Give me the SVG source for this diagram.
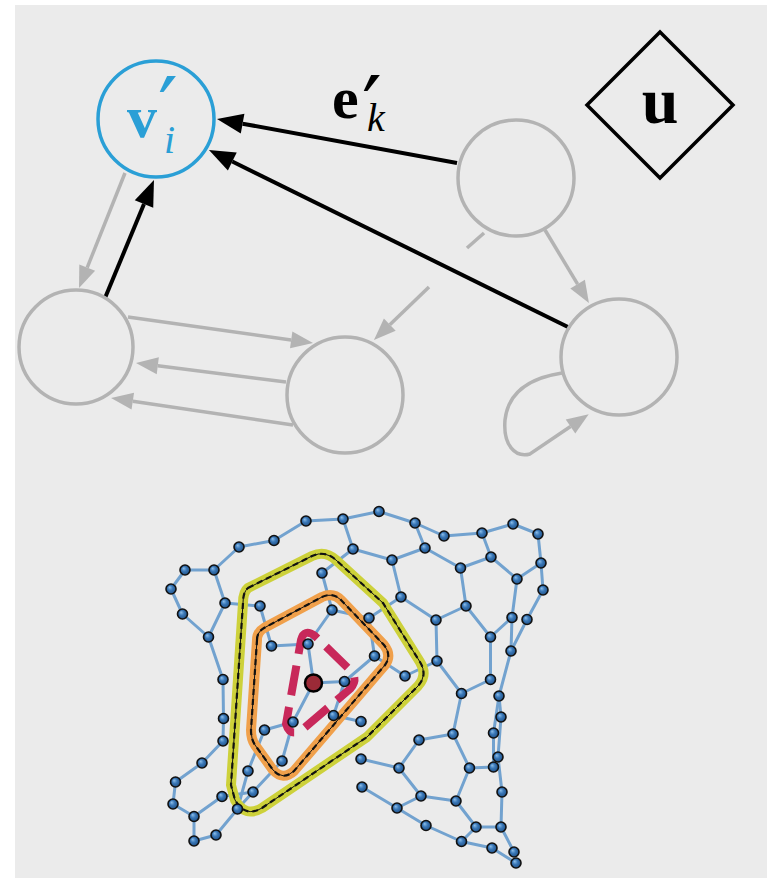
<svg xmlns="http://www.w3.org/2000/svg" width="767" height="878" viewBox="0 0 767 878">
  <defs>
    <style>
      .gnode { fill: none; stroke: #b3b3b3; stroke-width: 3.5; }
      .gedge { fill: none; stroke: #b3b3b3; stroke-width: 3.5; }
      .kedge { fill: none; stroke: #000; stroke-width: 4; }
      .mesh line { stroke: #72a2cf; stroke-width: 3; stroke-linecap: round; }
      .dot { fill: url(#ball); stroke: #111; stroke-width: 1.6; }
      .math { font-family: "Liberation Serif", "DejaVu Serif", serif; }
      .prime { font-family: "DejaVu Sans", sans-serif; font-weight: normal; font-style: normal; }
      .ring { fill: none; stroke-linejoin: round; }
      .ring-line { fill: none; stroke: #111; stroke-width: 1; }
      .ring-dash { fill: none; stroke: #111; stroke-width: 2.2; stroke-dasharray: 6 4; }
    </style>
    <radialGradient id="ball" cx="0.5" cy="0.5" r="0.55" fx="0.35" fy="0.32">
      <stop offset="0" stop-color="#8fc0ea"/>
      <stop offset="0.45" stop-color="#3a78b8"/>
      <stop offset="1" stop-color="#1d4c80"/>
    </radialGradient>
    <marker id="ak" markerUnits="userSpaceOnUse" markerWidth="30" markerHeight="24" viewBox="0 -12 28 24" refX="0" refY="0" orient="auto">
      <path d="M0,-10 L26,0 L0,10 Z" fill="#000"/>
    </marker>
    <marker id="ag" markerUnits="userSpaceOnUse" markerWidth="26" markerHeight="20" viewBox="0 -10 24 20" refX="0" refY="0" orient="auto">
      <path d="M0,-8.5 L22,0 L0,8.5 Z" fill="#b3b3b3"/>
    </marker>
    <path id="ring-outer" d="M248,588 L312,556 Q325,550 336,560 L383,603 L420,662 Q428,675 418,686 L367,737 L262,808 Q245,818 235,800 L231,785 L243,603 Q243,592 248,588 Z"/>
    <path id="ring-inner" d="M257,640 Q257,632 264,628 L322,597 Q333,592 341,600 L384,645 Q392,655 385,665 L294,771 Q283,781 273,770 L255,745 Q251,739 251,730 Z"/>
  </defs>

  <!-- panel background -->
  <rect x="0" y="0" width="767" height="878" fill="#ffffff"/>
  <rect x="15" y="5" width="752" height="873" fill="#ebebeb"/>

  <!-- upper graph: connectors -->
  <g id="edges">
    <line class="gedge" x1="125" y1="173" x2="87.2" y2="267.6" marker-end="url(#ag)"/>
    <line class="gedge" x1="128" y1="317" x2="291.2" y2="339.9" marker-end="url(#ag)"/>
    <line class="gedge" x1="286" y1="382" x2="157.8" y2="365.8" marker-end="url(#ag)"/>
    <line class="gedge" x1="293" y1="425" x2="132.8" y2="401.2" marker-end="url(#ag)"/>
    <line class="gedge" x1="429" y1="287" x2="389.8" y2="324.7" marker-end="url(#ag)"/>
    <line class="gedge" x1="545" y1="230" x2="577.6" y2="284.1" marker-end="url(#ag)"/>
    <line class="gedge" x1="484" y1="233" x2="467" y2="248"/>
    <path class="gedge" d="M562,373 C530,378 508,392 505,420 C503,445 515,458 530,454 L570.5,426.5" marker-end="url(#ag)"/>
    <line class="kedge" x1="457" y1="163" x2="242.6" y2="123.7" marker-end="url(#ak)"/>
    <line class="kedge" x1="570" y1="328" x2="232.3" y2="161.5" marker-end="url(#ak)"/>
    <line class="kedge" x1="105" y1="298" x2="144" y2="204" marker-end="url(#ak)"/>
  </g>

  <!-- upper graph: nodes -->
  <g id="node-vi">
    <circle cx="156" cy="119" r="58" fill="none" stroke="#2a9fd6" stroke-width="3.5"/>
    <text class="math" fill="#2a9fd6"><tspan x="127" y="137" font-size="60" font-weight="bold">v</tspan><tspan class="prime" x="158" y="140" font-size="88">′</tspan><tspan x="164" y="153" font-size="40" font-style="italic">i</tspan></text>
  </g>
  <g id="node-a"><circle class="gnode" cx="516" cy="178" r="58"/></g>
  <g id="node-b"><circle class="gnode" cx="76" cy="347" r="57"/></g>
  <g id="node-c"><circle class="gnode" cx="345" cy="395" r="58"/></g>
  <g id="node-d"><circle class="gnode" cx="619" cy="357" r="58"/></g>
  <g id="node-u">
    <path d="M660,32 L733,105 L660,178 L587,105 Z" fill="none" stroke="#000" stroke-width="3.5"/>
    <text class="math" x="660" y="123" font-size="66" font-weight="bold" text-anchor="middle" fill="#000">u</text>
  </g>
  <g id="label-ek">
    <text class="math" fill="#000"><tspan x="332" y="118" font-size="60" font-weight="bold">e</tspan><tspan class="prime" x="362" y="139" font-size="88">′</tspan><tspan x="367" y="131" font-size="40" font-style="italic">k</tspan></text>
  </g>

  <!-- lower figure: mesh links -->
  <g id="mesh-links" class="mesh">
    <line x1="306" y1="521" x2="343" y2="519"/>
    <line x1="306" y1="521" x2="274" y2="540.5"/>
    <line x1="274" y1="540.5" x2="239" y2="547"/>
    <line x1="239" y1="547" x2="214" y2="570"/>
    <line x1="185" y1="570" x2="214" y2="570"/>
    <line x1="185" y1="570" x2="171" y2="589"/>
    <line x1="171" y1="589" x2="182.5" y2="614"/>
    <line x1="182.5" y1="614" x2="208.5" y2="637"/>
    <line x1="214" y1="570" x2="225" y2="603"/>
    <line x1="225" y1="603" x2="260" y2="606"/>
    <line x1="225" y1="603" x2="208.5" y2="637"/>
    <line x1="208.5" y1="637" x2="223" y2="679.5"/>
    <line x1="260" y1="606" x2="271.5" y2="646"/>
    <line x1="271.5" y1="646" x2="308" y2="644"/>
    <line x1="322" y1="573" x2="332" y2="610"/>
    <line x1="322" y1="573" x2="353" y2="549"/>
    <line x1="332" y1="610" x2="308" y2="644"/>
    <line x1="332" y1="610" x2="369" y2="618"/>
    <line x1="308" y1="644" x2="313.5" y2="683"/>
    <line x1="313.5" y1="683" x2="344.5" y2="681.5"/>
    <line x1="343" y1="519" x2="379" y2="511.5"/>
    <line x1="379" y1="511.5" x2="415" y2="523"/>
    <line x1="415" y1="523" x2="444" y2="536"/>
    <line x1="444" y1="536" x2="482" y2="533"/>
    <line x1="482" y1="533" x2="513" y2="524"/>
    <line x1="513" y1="524" x2="538" y2="534"/>
    <line x1="343" y1="519" x2="353" y2="549"/>
    <line x1="415" y1="523" x2="425" y2="548"/>
    <line x1="353" y1="549" x2="392" y2="560"/>
    <line x1="392" y1="560" x2="425" y2="548"/>
    <line x1="425" y1="548" x2="460.5" y2="568"/>
    <line x1="460.5" y1="568" x2="491" y2="557"/>
    <line x1="482" y1="533" x2="491" y2="557"/>
    <line x1="491" y1="557" x2="517" y2="579"/>
    <line x1="517" y1="579" x2="541" y2="563"/>
    <line x1="538" y1="534" x2="541" y2="563"/>
    <line x1="541" y1="563" x2="543" y2="590"/>
    <line x1="517" y1="579" x2="512" y2="617.5"/>
    <line x1="392" y1="560" x2="401" y2="597"/>
    <line x1="401" y1="597" x2="369" y2="618"/>
    <line x1="401" y1="597" x2="436" y2="620"/>
    <line x1="460.5" y1="568" x2="466" y2="606"/>
    <line x1="466" y1="606" x2="436" y2="620"/>
    <line x1="466" y1="606" x2="490.5" y2="637"/>
    <line x1="490.5" y1="637" x2="512" y2="617.5"/>
    <line x1="436" y1="620" x2="437" y2="661"/>
    <line x1="369" y1="618" x2="374.5" y2="656"/>
    <line x1="374.5" y1="656" x2="344.5" y2="681.5"/>
    <line x1="374.5" y1="656" x2="405" y2="676"/>
    <line x1="405" y1="676" x2="437" y2="661"/>
    <line x1="437" y1="661" x2="461.5" y2="693.5"/>
    <line x1="490.5" y1="637" x2="490.5" y2="679.5"/>
    <line x1="490.5" y1="679.5" x2="461.5" y2="693.5"/>
    <line x1="543" y1="590" x2="527" y2="619.5"/>
    <line x1="527" y1="619.5" x2="511" y2="651"/>
    <line x1="512" y1="617.5" x2="511" y2="651"/>
    <line x1="511" y1="651" x2="499" y2="696"/>
    <line x1="499" y1="696" x2="501" y2="717"/>
    <line x1="499" y1="696" x2="493.5" y2="733"/>
    <line x1="501" y1="717" x2="498" y2="757"/>
    <line x1="493.5" y1="733" x2="493.5" y2="767"/>
    <line x1="498" y1="757" x2="502" y2="792"/>
    <line x1="469.5" y1="768" x2="493.5" y2="767"/>
    <line x1="461.5" y1="693.5" x2="453" y2="734"/>
    <line x1="453" y1="734" x2="419" y2="740"/>
    <line x1="453" y1="734" x2="469.5" y2="768"/>
    <line x1="419" y1="740" x2="399" y2="768"/>
    <line x1="361" y1="759" x2="399" y2="768"/>
    <line x1="399" y1="768" x2="421" y2="796"/>
    <line x1="421" y1="796" x2="456" y2="801"/>
    <line x1="456" y1="801" x2="469.5" y2="768"/>
    <line x1="362" y1="787" x2="397" y2="808"/>
    <line x1="397" y1="808" x2="421" y2="796"/>
    <line x1="397" y1="808" x2="426" y2="825.5"/>
    <line x1="426" y1="825.5" x2="461.5" y2="841.5"/>
    <line x1="461.5" y1="841.5" x2="476" y2="827"/>
    <line x1="456" y1="801" x2="476" y2="827"/>
    <line x1="476" y1="827" x2="501" y2="827"/>
    <line x1="501" y1="827" x2="502" y2="792"/>
    <line x1="501" y1="827" x2="514" y2="852"/>
    <line x1="461.5" y1="841.5" x2="492" y2="848"/>
    <line x1="492" y1="848" x2="516" y2="863"/>
    <line x1="313.5" y1="683" x2="293" y2="722"/>
    <line x1="293" y1="722" x2="264.5" y2="730"/>
    <line x1="293" y1="722" x2="282" y2="761"/>
    <line x1="264.5" y1="730" x2="248" y2="771"/>
    <line x1="248" y1="771" x2="237.5" y2="809"/>
    <line x1="282" y1="761" x2="253" y2="792"/>
    <line x1="253" y1="792" x2="237.5" y2="809"/>
    <line x1="253" y1="792" x2="222" y2="796.5"/>
    <line x1="222" y1="796.5" x2="194" y2="816.5"/>
    <line x1="237.5" y1="809" x2="216" y2="835"/>
    <line x1="216" y1="835" x2="194" y2="841"/>
    <line x1="194" y1="841" x2="194" y2="816.5"/>
    <line x1="194" y1="816.5" x2="173" y2="804"/>
    <line x1="173" y1="804" x2="175.5" y2="782"/>
    <line x1="175.5" y1="782" x2="202" y2="763"/>
    <line x1="202" y1="763" x2="223" y2="741"/>
    <line x1="223" y1="679.5" x2="223.5" y2="718.5"/>
    <line x1="223.5" y1="718.5" x2="223" y2="741"/>
    <line x1="333.5" y1="715.5" x2="361" y2="721.5"/>
    <line x1="333.5" y1="715.5" x2="344.5" y2="681.5"/>
  </g>

  <!-- lower figure: neighbourhood rings around the centre -->
  <g id="rings">
    <use href="#ring-outer" class="ring" stroke="#cdd13a" stroke-width="10"/>
    <use href="#ring-outer" class="ring-line"/>
    <use href="#ring-outer" class="ring-dash"/>
    <use href="#ring-inner" class="ring" stroke="#f0a04b" stroke-width="10"/>
    <use href="#ring-inner" class="ring-line"/>
    <use href="#ring-inner" class="ring-dash"/>
    <path d="M301,640 Q304,628 315,636 L350,670 Q359,679 350,689 L303,729 Q290,738 286,724 Z" fill="none" stroke="#c8285a" stroke-width="8" stroke-dasharray="30 12" stroke-dashoffset="8"/>
  </g>

  <!-- lower figure: mesh points -->
  <g id="mesh-points">
    <g id="p1"><circle class="dot" cx="379" cy="511.5" r="5"/></g>
    <g id="p2"><circle class="dot" cx="343" cy="519" r="5"/></g>
    <g id="p3"><circle class="dot" cx="306" cy="521" r="5"/></g>
    <g id="p4"><circle class="dot" cx="415" cy="523" r="5"/></g>
    <g id="p5"><circle class="dot" cx="274" cy="540.5" r="5"/></g>
    <g id="p6"><circle class="dot" cx="239" cy="547" r="5"/></g>
    <g id="p7"><circle class="dot" cx="444" cy="536" r="5"/></g>
    <g id="p8"><circle class="dot" cx="482" cy="533" r="5"/></g>
    <g id="p9"><circle class="dot" cx="513" cy="524" r="5"/></g>
    <g id="p10"><circle class="dot" cx="538" cy="534" r="5"/></g>
    <g id="p11"><circle class="dot" cx="353" cy="549" r="5"/></g>
    <g id="p12"><circle class="dot" cx="425" cy="548" r="5"/></g>
    <g id="p13"><circle class="dot" cx="392" cy="560" r="5"/></g>
    <g id="p14"><circle class="dot" cx="491" cy="557" r="5"/></g>
    <g id="p15"><circle class="dot" cx="460.5" cy="568" r="5"/></g>
    <g id="p16"><circle class="dot" cx="541" cy="563" r="5"/></g>
    <g id="p17"><circle class="dot" cx="185" cy="570" r="5"/></g>
    <g id="p18"><circle class="dot" cx="214" cy="570" r="5"/></g>
    <g id="p19"><circle class="dot" cx="322" cy="573" r="5"/></g>
    <g id="p20"><circle class="dot" cx="517" cy="579" r="5"/></g>
    <g id="p21"><circle class="dot" cx="171" cy="589" r="5"/></g>
    <g id="p22"><circle class="dot" cx="543" cy="590" r="5"/></g>
    <g id="p23"><circle class="dot" cx="225" cy="603" r="5"/></g>
    <g id="p24"><circle class="dot" cx="260" cy="606" r="5"/></g>
    <g id="p25"><circle class="dot" cx="401" cy="597" r="5"/></g>
    <g id="p26"><circle class="dot" cx="466" cy="606" r="5"/></g>
    <g id="p27"><circle class="dot" cx="332" cy="610" r="5"/></g>
    <g id="p28"><circle class="dot" cx="182.5" cy="614" r="5"/></g>
    <g id="p29"><circle class="dot" cx="369" cy="618" r="5"/></g>
    <g id="p30"><circle class="dot" cx="436" cy="620" r="5"/></g>
    <g id="p31"><circle class="dot" cx="512" cy="617.5" r="5"/></g>
    <g id="p32"><circle class="dot" cx="527" cy="619.5" r="5"/></g>
    <g id="p33"><circle class="dot" cx="208.5" cy="637" r="5"/></g>
    <g id="p34"><circle class="dot" cx="490.5" cy="637" r="5"/></g>
    <g id="p35"><circle class="dot" cx="271.5" cy="646" r="5"/></g>
    <g id="p36"><circle class="dot" cx="308" cy="644" r="5"/></g>
    <g id="p37"><circle class="dot" cx="374.5" cy="656" r="5"/></g>
    <g id="p38"><circle class="dot" cx="511" cy="651" r="5"/></g>
    <g id="p39"><circle class="dot" cx="437" cy="661" r="5"/></g>
    <g id="p40"><circle class="dot" cx="405" cy="676" r="5"/></g>
    <g id="p41"><circle class="dot" cx="223" cy="679.5" r="5"/></g>
    <g id="p42"><circle class="dot" cx="344.5" cy="681.5" r="5"/></g>
    <g id="p43"><circle class="dot" cx="490.5" cy="679.5" r="5"/></g>
    <g id="p44"><circle class="dot" cx="461.5" cy="693.5" r="5"/></g>
    <g id="p45"><circle class="dot" cx="499" cy="696" r="5"/></g>
    <g id="p46"><circle class="dot" cx="223.5" cy="718.5" r="5"/></g>
    <g id="p47"><circle class="dot" cx="333.5" cy="715.5" r="5"/></g>
    <g id="p48"><circle class="dot" cx="361" cy="721.5" r="5"/></g>
    <g id="p49"><circle class="dot" cx="293" cy="722" r="5"/></g>
    <g id="p50"><circle class="dot" cx="501" cy="717" r="5"/></g>
    <g id="p51"><circle class="dot" cx="264.5" cy="730" r="5"/></g>
    <g id="p52"><circle class="dot" cx="453" cy="734" r="5"/></g>
    <g id="p53"><circle class="dot" cx="493.5" cy="733" r="5"/></g>
    <g id="p54"><circle class="dot" cx="419" cy="740" r="5"/></g>
    <g id="p55"><circle class="dot" cx="223" cy="741" r="5"/></g>
    <g id="p56"><circle class="dot" cx="282" cy="761" r="5"/></g>
    <g id="p57"><circle class="dot" cx="202" cy="763" r="5"/></g>
    <g id="p58"><circle class="dot" cx="361" cy="759" r="5"/></g>
    <g id="p59"><circle class="dot" cx="498" cy="757" r="5"/></g>
    <g id="p60"><circle class="dot" cx="493.5" cy="767" r="5"/></g>
    <g id="p61"><circle class="dot" cx="399" cy="768" r="5"/></g>
    <g id="p62"><circle class="dot" cx="469.5" cy="768" r="5"/></g>
    <g id="p63"><circle class="dot" cx="248" cy="771" r="5"/></g>
    <g id="p64"><circle class="dot" cx="175.5" cy="782" r="5"/></g>
    <g id="p65"><circle class="dot" cx="362" cy="787" r="5"/></g>
    <g id="p66"><circle class="dot" cx="253" cy="792" r="5"/></g>
    <g id="p67"><circle class="dot" cx="502" cy="792" r="5"/></g>
    <g id="p68"><circle class="dot" cx="222" cy="796.5" r="5"/></g>
    <g id="p69"><circle class="dot" cx="421" cy="796" r="5"/></g>
    <g id="p70"><circle class="dot" cx="456" cy="801" r="5"/></g>
    <g id="p71"><circle class="dot" cx="173" cy="804" r="5"/></g>
    <g id="p72"><circle class="dot" cx="397" cy="808" r="5"/></g>
    <g id="p73"><circle class="dot" cx="237.5" cy="809" r="5"/></g>
    <g id="p74"><circle class="dot" cx="194" cy="816.5" r="5"/></g>
    <g id="p75"><circle class="dot" cx="426" cy="825.5" r="5"/></g>
    <g id="p76"><circle class="dot" cx="476" cy="827" r="5"/></g>
    <g id="p77"><circle class="dot" cx="501" cy="827" r="5"/></g>
    <g id="p78"><circle class="dot" cx="216" cy="835" r="5"/></g>
    <g id="p79"><circle class="dot" cx="194" cy="841" r="5"/></g>
    <g id="p80"><circle class="dot" cx="461.5" cy="841.5" r="5"/></g>
    <g id="p81"><circle class="dot" cx="492" cy="848" r="5"/></g>
    <g id="p82"><circle class="dot" cx="514" cy="852" r="5"/></g>
    <g id="p83"><circle class="dot" cx="516" cy="863" r="5"/></g>
    <g id="centre"><circle cx="313.5" cy="683" r="8.5" fill="#9b2a37" stroke="#000" stroke-width="2.5"/></g>
  </g>
</svg>
